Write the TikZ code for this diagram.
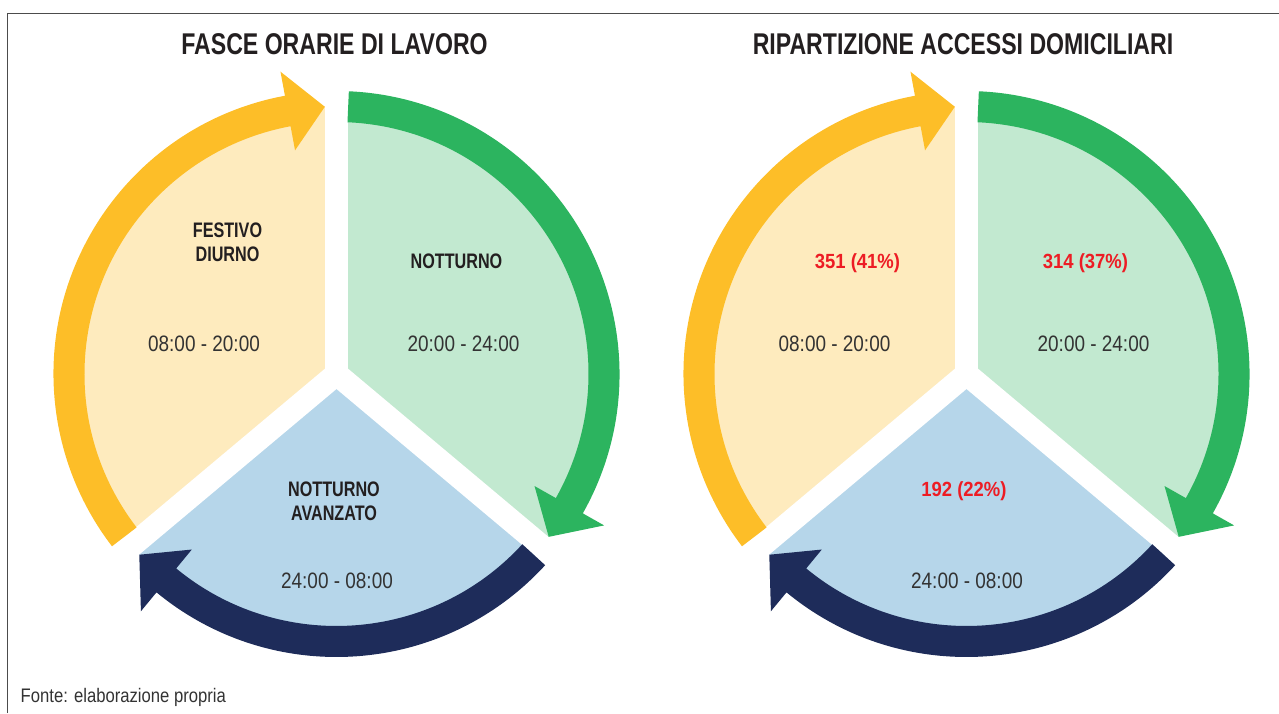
\documentclass[tikz,border=0pt]{standalone}
\usepackage{fontspec}
\setmainfont{Liberation Sans}[FakeStretch=0.85]
\newfontfamily\condfont{Liberation Sans}[FakeStretch=0.77]
\newfontfamily\quotafont{Liberation Sans}[FakeStretch=0.9]
\usetikzlibrary{calc}

\definecolor{ambra}{HTML}{FDBE28}
\definecolor{ambralt}{HTML}{FEEBBE}
\definecolor{verde}{HTML}{2CB45F}
\definecolor{verdelt}{HTML}{C2E9D0}
\definecolor{notte}{HTML}{1E2C5A}
\definecolor{nottelt}{HTML}{B6D6EA}
\definecolor{rosso}{HTML}{ED1C24}
\definecolor{scuro}{HTML}{231F20}
\definecolor{grigio}{HTML}{333333}

\tikzset{
  titolo/.style={font=\condfont\bfseries\fontsize{30}{32}\selectfont,
                 text=scuro, inner sep=0pt},
  fascia/.style={font=\condfont\bfseries\fontsize{21}{24}\selectfont,
                 text=scuro, align=center, inner sep=0pt},
  orario/.style={font=\fontsize{22.3}{26}\selectfont, text=grigio, inner sep=0pt},
  quota/.style={font=\quotafont\bfseries\fontsize{20.5}{24}\selectfont,
                text=rosso, inner sep=0pt},
  gap/.style={white, line width=23pt, line cap=round},
  cornice/.style={draw=black!70, line width=1.3pt},
}

% band from tail angle #2 clockwise to tip angle #3, centre #1, colour #4
\newcommand{\giro}[4]{%
  \pgfmathsetmacro{\hb}{#3+8}
  \fill[#4] ($(#1)+(#2:252pt)$) arc[start angle=#2, end angle=\hb, radius=252pt]
    -- ($(#1)+(\hb:227.5pt)$) -- ($(#1)+(#3:267.5pt)$) -- ($(#1)+(\hb:307.5pt)$)
    -- ($(#1)+(\hb:283pt)$) arc[start angle=\hb, end angle=#2, radius=283pt]
    -- cycle;
}

\begin{document}
\begin{tikzpicture}[x=1pt, y=1pt]
\useasboundingbox (0,0) rectangle (1279,713);

%% frame
\draw[cornice] (7.5,0) |- (1279,699.7);

\coordinate (L) at (336.5,339);
\coordinate (R) at (966.5,339);

%% sectors, gaps and arrows
\foreach \c in {L,R} {
  \fill[ambralt] (\c) -- ++(90:267.5pt)
    arc[start angle=90, end angle=220, radius=267.5pt] -- cycle;
  \fill[verdelt] (\c) -- ++(-40:267.5pt)
    arc[start angle=-40, end angle=90, radius=267.5pt] -- cycle;
  \fill[nottelt] (\c) -- ++(220:267.5pt)
    arc[start angle=220, end angle=320, radius=267.5pt] -- cycle;
  \foreach \a in {90,220,320}
    \draw[gap] (\c) -- ++(\a:300pt);
  \giro{\c}{217.5}{92.5}{ambra}
  \giro{\c}{87.5}{-37.5}{verde}
  \giro{\c}{317.5}{222.5}{notte}
}

%% titles
\node[titolo, anchor=base] (titL) at (334.5,658.7) {FASCE ORARIE DI LAVORO};
\node[titolo, anchor=base] (titR) at (963,658.7) {RIPARTIZIONE ACCESSI DOMICILIARI};

%% left: time bands
\node[fascia, anchor=north] (festivo) at (227.5,490) {FESTIVO\\DIURNO};
\node[fascia, anchor=base] (notturno) at (456.5,444) {NOTTURNO};
\node[fascia, anchor=north] (avanzato) at (334,231) {NOTTURNO\\AVANZATO};

\node[orario, anchor=base] (oraL1) at (204,361) {08:00 - 20:00};
\node[orario, anchor=base] (oraL2) at (463.5,361) {20:00 - 24:00};
\node[orario, anchor=base] (oraL3) at (337,125) {24:00 - 08:00};

%% right: home visits
\node[quota, anchor=base] (q1) at (857.5,444) {351 (41\%)};
\node[quota, anchor=base] (q2) at (1085.5,444) {314 (37\%)};
\node[quota, anchor=base] (q3) at (964,217) {192 (22\%)};

\node[orario, anchor=base] (oraR1) at (834.5,361) {08:00 - 20:00};
\node[orario, anchor=base] (oraR2) at (1093.5,361) {20:00 - 24:00};
\node[orario, anchor=base] (oraR3) at (967,125) {24:00 - 08:00};

%% source
\node[orario, font=\fontsize{19.6}{22}\selectfont, anchor=base west] (fonte)
  at (20.5,11) {Fonte: elaborazione propria};

\end{tikzpicture}
\end{document}
